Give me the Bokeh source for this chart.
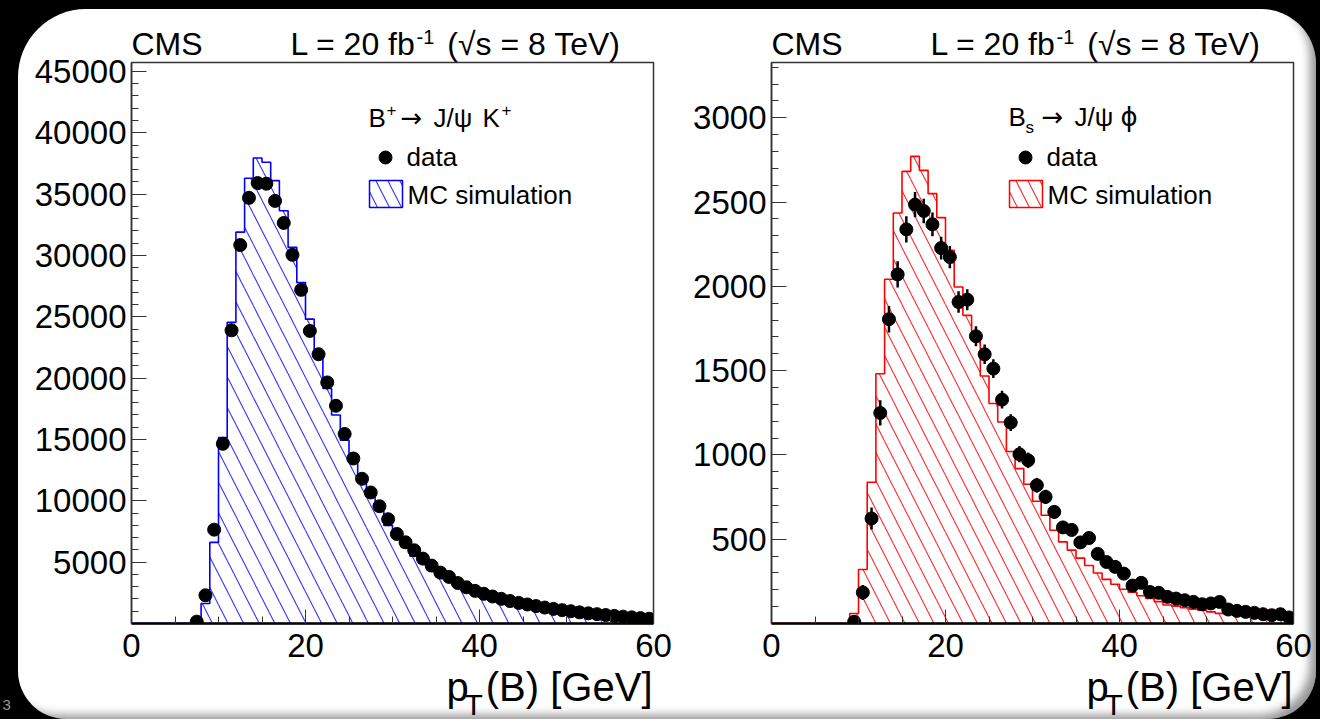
import math
from bokeh.plotting import figure
from bokeh.models import Range1d, FixedTicker, Label, Spacer, GlobalInlineStyleSheet, GridBox
from bokeh.layouts import row, column
from bokeh.embed import file_html
from bokeh.resources import INLINE

# ---------------- data ----------------
bin_edges = list(range(0, 61))
x_major_ticks = [0, 20, 40, 60]
x_minor_ticks = [5, 10, 15, 25, 30, 35, 45, 50, 55]

bu_y_ticks = [5000, 10000, 15000, 20000, 25000, 30000, 35000, 40000, 45000]
bu_y_minor = [v for v in range(1000, 46000, 1000) if v % 5000]
bu_y_max = 45730
bs_y_ticks = [500, 1000, 1500, 2000, 2500, 3000]
bs_y_minor = [v for v in range(100, 3400, 100) if v % 500]
bs_y_max = 3328

# B+ -> J/psi K+ : data counts per 1 GeV bin (bins 0..59)
bu_data = [0, 0, 0, 0, 0, 0, 0,
           150, 2300, 7650, 14650, 23900, 30850, 34700, 35900, 35850, 34450,
           32650, 30050, 27200, 23850, 21950, 19650, 17750, 15450, 13450, 11800,
           10680, 9560, 8500, 7300, 6620, 5970, 5290, 4720, 4150, 3800,
           3300, 2950, 2660, 2420, 2200, 2010, 1830, 1680, 1550, 1420,
           1300, 1190, 1090, 1000, 910, 830, 760, 690, 620, 560,
           500, 440, 390]
# B+ MC simulation
bu_mc = [0, 0, 0, 0, 0, 0, 0,
         30, 1630, 6610, 15150, 24550, 31900, 36300, 37950, 37600, 36100,
         33640, 30660, 27790, 24810, 22050, 19150, 17000, 14950, 13150, 11640,
         10300, 9200, 8000, 6950, 6200, 5480, 4930, 4330, 3800, 3470,
         3000, 2710, 2400, 2230, 2030, 1850, 1690, 1550, 1420, 1300,
         1190, 1090, 1000, 920, 840, 770, 700, 640, 590, 530,
         480, 430, 390]

# Bs -> J/psi phi : data, errors, MC
bs_data = [0, 0, 0, 0, 0, 0, 0, 0, 0,
           10, 184, 623, 1249, 1805, 2071, 2338, 2485, 2447, 2368,
           2227, 2174, 1907, 1921, 1704, 1597, 1512, 1328, 1192, 1004,
           968, 820, 751, 662, 570, 555, 481, 507, 413, 365,
           336, 296, 225, 241, 187, 182, 158, 148, 138, 128,
           114, 119, 128, 83, 75, 69, 63, 55, 49, 55, 36]
bs_err = [0, 0, 0, 0, 0, 0, 0, 0, 0,
          15, 45, 65, 75, 78, 78, 78, 75, 72, 70,
          68, 66, 64, 62, 60, 58, 55, 52, 50, 48,
          46, 44, 42, 40, 38, 37, 35, 35, 33, 31,
          30, 28, 26, 26, 24, 24, 22, 21, 20, 20,
          19, 19, 19, 16, 15, 15, 14, 13, 13, 13, 12]
bs_mc = [0, 0, 0, 0, 0, 0, 0, 0, 0,
         59, 320, 838, 1482, 2042, 2435, 2682, 2771, 2688, 2550,
         2408, 2214, 1996, 1828, 1720, 1468, 1305, 1195, 1020, 919,
         826, 725, 642, 553, 484, 435, 388, 344, 300, 262,
         233, 203, 185, 165, 148, 130, 110, 103, 93, 85,
         79, 69, 60, 55, 49, 43, 40, 34, 30, 26, 24]

# text content: (offset from frame left, baseline, text, size, font)
FONT = "Liberation Sans"
ARROW_FONT = "DejaVu Sans"
cms_text = "CMS"
lumi_text = ["L = 20 fb", "-1", "(\u221as = 8 TeV)"]
xtitle_text = ["p", "T", "(B) [GeV]"]
bu_header = [(237, 127, "B", 26, FONT), (255, 115, "+", 17, FONT),
             (269, 127, "\u2192", 26, ARROW_FONT), (302, 127, "J/\u03c8", 26, FONT),
             (351, 127, "K", 26, FONT), (370, 115, "+", 17, FONT)]
bs_header = [(237, 126, "B", 26, FONT), (254, 133, "s", 17, FONT),
             (270, 126, "\u2192", 26, ARROW_FONT), (303, 126, "J/\u03c8", 26, FONT),
             (349, 126, "\u03d5", 26, ARROW_FONT)]
slide_number = "3"

# ---------------- geometry / style ----------------
PAGE_W, PAGE_H = 1320, 719
PANEL_X, PANEL_Y = 18, 9
PANEL_H = 710
FRAME_W, FRAME_H = 522, 561
TOP, BOTTOM = 53, PANEL_H - 53 - 561
FB_ABS = 623
COT = 1.0 / math.tan(math.radians(63))


def hatch(lefts, rights, bottoms, tops, ax, ay, sp, phase):
    x0, y0, x1, y1 = [], [], [], []
    for xa, xb, yb, yt in zip(lefts, rights, bottoms, tops):
        if yt <= yb:
            continue
        Xa, Xb, Yb, Yt = xa * ax, xb * ax, yb * ay, yt * ay
        kmin = math.ceil((Xa + Yb * COT - phase) / sp)
        kmax = math.floor((Xb + Yt * COT - phase) / sp)
        for k in range(kmin, kmax + 1):
            c = phase + k * sp
            lo = max(Yb, (c - Xb) / COT)
            hi = min(Yt, (c - Xa) / COT)
            if hi - lo > 1e-6:
                x0.append((c - lo * COT) / ax); y0.append(lo / ay)
                x1.append((c - hi * COT) / ax); y1.append(hi / ay)
    return x0, y0, x1, y1


def make_plot(fig_w, bl, FL, ymax, yt, ym, data, mc, err, color, hcolor, sp):
    br = fig_w - bl - FRAME_W
    p = figure(width=fig_w, height=PANEL_H, output_backend="svg", toolbar_location=None,
               title=None, x_range=Range1d(0, 60), y_range=Range1d(0, ymax),
               min_border_left=bl, min_border_right=br, min_border_top=TOP,
               min_border_bottom=BOTTOM, border_fill_alpha=0,
               background_fill_color="white", outline_line_color="#333333",
               outline_line_width=1.5)
    p.xgrid.visible = False
    p.ygrid.visible = False

    def conv(X, Y):
        return (X - FL) / FRAME_W * 60.0, (FB_ABS - Y) / FRAME_H * ymax

    xa = p.xaxis[0]
    xa.ticker = FixedTicker(ticks=x_major_ticks, minor_ticks=x_minor_ticks)
    xa.major_tick_in, xa.major_tick_out = 14, 0
    xa.minor_tick_in, xa.minor_tick_out = 7, 0
    xa.major_tick_line_color = "#333333"
    xa.minor_tick_line_color = "#333333"
    xa.axis_line_color = "black"
    xa.axis_line_width = 2.5
    xa.major_label_standoff = 10
    xa.major_label_text_font = FONT
    xa.major_label_text_font_size = "33px"
    xa.major_label_text_color = "black"

    ya = p.yaxis[0]
    ya.ticker = FixedTicker(ticks=yt, minor_ticks=ym)
    ya.major_tick_in, ya.major_tick_out = 15, 0
    ya.minor_tick_in, ya.minor_tick_out = 7, 0
    ya.major_tick_line_color = "#333333"
    ya.minor_tick_line_color = "#333333"
    ya.axis_line_color = "#333333"
    ya.axis_line_width = 1.5
    ya.major_label_standoff = 5
    ya.major_label_text_font = FONT
    ya.major_label_text_font_size = "33px"
    ya.major_label_text_color = "black"

    ax = FRAME_W / 60.0
    ay = FRAME_H / ymax
    lefts = bin_edges[:-1]
    rights = bin_edges[1:]
    hx0, hy0, hx1, hy1 = hatch(lefts, rights, [0] * len(mc), mc, ax, ay, sp, 3.0)
    p.segment(x0=hx0, y0=hy0, x1=hx1, y1=hy1, line_color=hcolor, line_width=1.1)
    p.step(x=bin_edges, y=mc + [mc[-1]], mode="after", line_color=color, line_width=1.6)

    centers = [(a + b) / 2 for a, b in zip(lefts, rights)]
    sel = [i for i, v in enumerate(data) if v > 0]
    xc = [centers[i] for i in sel]
    yd = [data[i] for i in sel]
    if err is not None:
        ye = [err[i] for i in sel]
        p.segment(x0=xc, y0=[a - b for a, b in zip(yd, ye)], x1=xc,
                  y1=[a + b for a, b in zip(yd, ye)], line_color="black", line_width=2.5)
    p.scatter(x=xc, y=yd, size=13, color="black")

    # legend markers
    dxp, dyp = conv(FL + 254, 157)
    p.scatter(x=[dxp], y=[dyp], size=13, color="black")
    bx0, by0 = conv(FL + 238, 207)
    bx1, by1 = conv(FL + 271, 180)
    lx0, ly0, lx1, ly1 = hatch([bx0], [bx1], [by0], [by1], ax, ay, 12.0, 2.0)
    p.segment(x0=lx0, y0=ly0, x1=lx1, y1=ly1, line_color=hcolor, line_width=1.1)
    p.quad(left=[bx0], right=[bx1], bottom=[by0], top=[by1], fill_color=None,
           line_color=color, line_width=1.5)
    return p


p1 = make_plot(658, 113, 131, bu_y_max, bu_y_ticks, bu_y_minor, bu_data, bu_mc, None,
               "#0000ff", "#3434ff", 15.6)
p2 = make_plot(640, 95, 771, bs_y_max, bs_y_ticks, bs_y_minor, bs_data, bs_mc, bs_err,
               "#ff0000", "#ff2a2a", 14.5)

# ---------------- text overlay (page pixel coordinates, y down) ----------------
ov = figure(width=PAGE_W, height=PAGE_H, output_backend="svg", toolbar_location=None,
            title=None, x_range=Range1d(0, PAGE_W), y_range=Range1d(PAGE_H, 0),
            min_border=0, x_axis_type=None, y_axis_type=None,
            background_fill_alpha=0, border_fill_alpha=0, outline_line_color=None)


def txt(X, baseline, s, size, align="left", font=FONT, color="black"):
    ov.add_layout(Label(x=X, y=baseline - 0.35 * size, text=s, text_font=font,
                        text_font_size=f"{size}px", text_color=color,
                        text_align=align, text_baseline="middle"))


for FL, header in ((131, bu_header), (771, bs_header)):
    txt(FL + 0, 55, cms_text, 32)
    txt(FL + 159, 55, lumi_text[0], 32)
    txt(FL + 285, 43, lumi_text[1], 20)
    txt(FL + 489, 55, lumi_text[2], 32, "right")
    txt(FL + 315, 700, xtitle_text[0], 40)
    txt(FL + 333, 714, xtitle_text[1], 30)
    txt(FL + 521, 700, xtitle_text[2], 40, "right")
    for dx, yy, s, size, font in header:
        txt(FL + dx, yy, s, size, font=font)
    txt(FL + 275, 166, "data", 26)
    txt(FL + 276, 204, "MC simulation", 26)

# slide-number fragment at the bottom-left edge
txt(2, 710, slide_number, 15, "left", color="#9a9a9a")

panel = row(p1, p2, styles={
    "background-color": "white",
    "border-radius": "68px 55px 48px 48px",
    "box-shadow": "inset -10px -8px 10px -4px rgba(0,0,0,0.42)",
    "overflow": "hidden",
})
base = column(
    Spacer(width=PAGE_W, height=PANEL_Y),
    row(Spacer(width=PANEL_X, height=PANEL_H), panel, Spacer(width=4, height=PANEL_H)),
    styles={"background-color": "black"},
)
root = GridBox(children=[(base, 0, 0), (ov, 0, 0)],
               stylesheets=[GlobalInlineStyleSheet(css="html, body {margin:0; padding:0; background:#000;}")])

open("out.html", "w").write(file_html(root, INLINE))
